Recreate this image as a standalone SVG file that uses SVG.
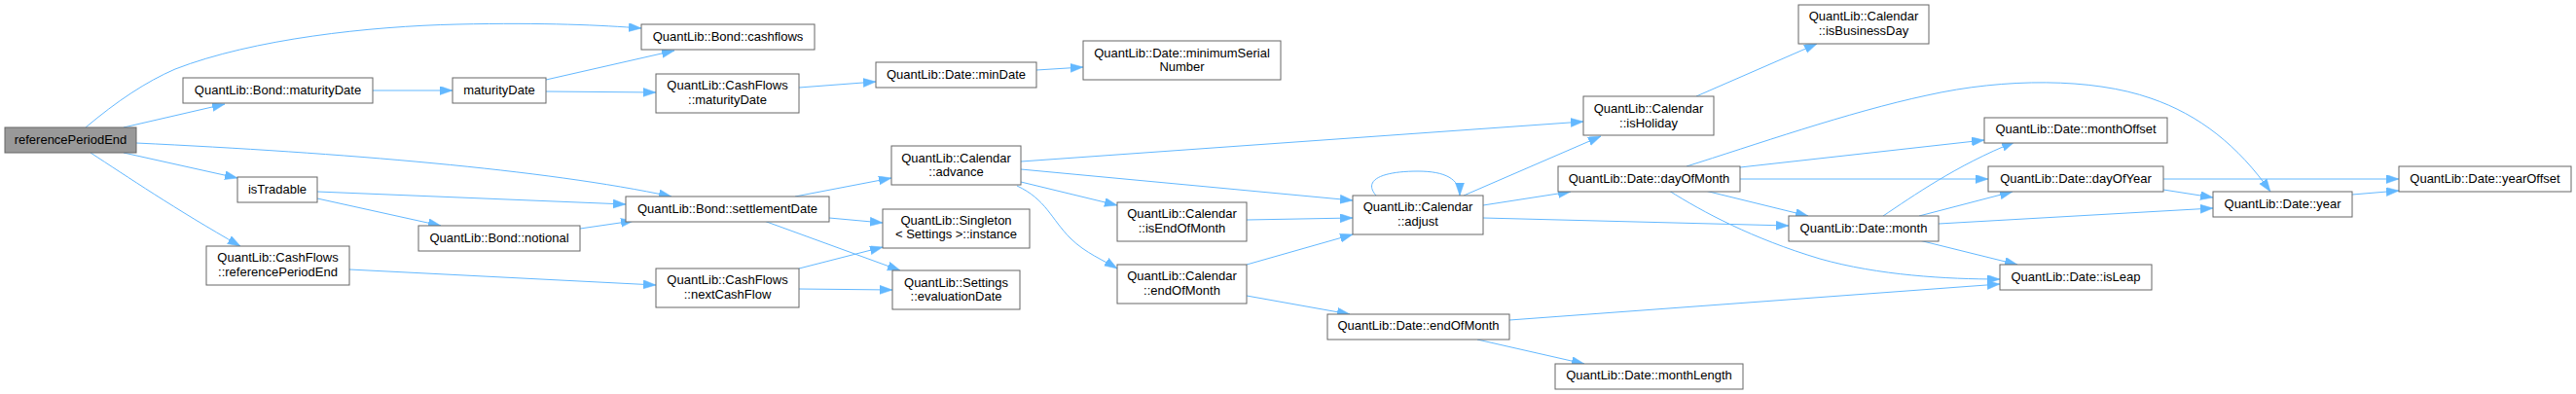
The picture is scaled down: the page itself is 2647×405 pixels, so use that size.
<svg xmlns="http://www.w3.org/2000/svg" width="2647" height="405" viewBox="0 0 2647 405">
<style>
.n rect{fill:#fff;stroke:#666;stroke-width:1}
.root rect{fill:#999;stroke:#666}
.n text{font-family:"Liberation Sans",Arial,sans-serif;font-size:13px;fill:#000;text-anchor:middle}
.e path{fill:none;stroke:#63b8ff;stroke-width:1;marker-end:url(#ah)}
</style>
<defs>
<marker id="ah" markerUnits="userSpaceOnUse" markerWidth="14" markerHeight="10" refX="13" refY="4.5" orient="auto">
<path d="M0,0 L13,4.5 L0,9 z" fill="#63b8ff" stroke="#63b8ff" stroke-width="0.5"/>
</marker>
</defs>
<rect width="2647" height="405" fill="#fff"/>
<g class="e" id="edges">
<path d="M88,131 C120,104 150,84 180,71 C260,40 380,27 470,25 C560,23 620,26 659,29"/>
<path d="M127,131 L231,107"/>
<path d="M140,147 C350,157 560,174 690,202"/>
<path d="M127,157 L244,183"/>
<path d="M93,157 C130,181 180,215 247,253"/>
<path d="M383,93 L465,93"/>
<path d="M561,82 L693,52"/>
<path d="M561,94 L674,95"/>
<path d="M821,90 L900,84"/>
<path d="M1065,72 L1113,69"/>
<path d="M326,197 L643,210"/>
<path d="M326,204 L453,232"/>
<path d="M596,235 L651,227"/>
<path d="M359,277 L674,293"/>
<path d="M817,202 L916,183"/>
<path d="M852,224 L907,229"/>
<path d="M785,227 L925,278"/>
<path d="M821,276 L907,254"/>
<path d="M821,297 L917,298"/>
<path d="M1049,166 L1627,125"/>
<path d="M1049,174 L1390,206"/>
<path d="M1049,187 L1148,211"/>
<path d="M1045,191 C1075,205 1080,225 1100,245 C1115,260 1135,268 1148,276"/>
<path d="M1281,226 L1390,224"/>
<path d="M1281,272 L1390,241"/>
<path d="M1281,304 L1387,323"/>
<path d="M1414,201 C1400,185 1420,176 1457,176 C1485,176 1500,184 1500,201"/>
<path d="M1504,201 L1645,140"/>
<path d="M1524,211 L1614,197"/>
<path d="M1524,224 L1838,232"/>
<path d="M1743,99 L1867,45"/>
<path d="M1733,171 C1800,150 1900,115 1980,98 C2060,80 2150,80 2210,101 C2260,118 2300,150 2333,197"/>
<path d="M1788,172 L2039,144"/>
<path d="M1788,184 L2043,184"/>
<path d="M1752,196 L1858,222"/>
<path d="M1715,196 C1750,218 1800,245 1870,266 C1930,283 2000,287 2055,287"/>
<path d="M1935,222 C1965,202 2010,170 2070,146"/>
<path d="M1972,222 L2068,197"/>
<path d="M1992,230 L2274,214"/>
<path d="M1972,247 L2073,272"/>
<path d="M1551,329 L2055,292"/>
<path d="M1518,349 L1628,374"/>
<path d="M2223,184 L2465,184"/>
<path d="M2223,195 L2274,203"/>
<path d="M2417,200 L2465,196"/>
</g>
<g class="n root" id="n0"><rect x="5" y="131" width="135" height="26"/><text x="72.5" y="148">referencePeriodEnd</text></g>
<g class="n" id="n1"><rect x="659" y="25" width="178" height="26"/><text x="748" y="42">QuantLib::Bond::cashflows</text></g>
<g class="n" id="n2"><rect x="188" y="80" width="195" height="26"/><text x="285.5" y="97">QuantLib::Bond::maturityDate</text></g>
<g class="n" id="n3"><rect x="465" y="80" width="96" height="26"/><text x="513" y="97">maturityDate</text></g>
<g class="n" id="n4"><rect x="674" y="76" width="147" height="40"/><text x="747.5" y="92">QuantLib::CashFlows</text><text x="747.5" y="107">::maturityDate</text></g>
<g class="n" id="n5"><rect x="900" y="64" width="165" height="26"/><text x="982.5" y="81">QuantLib::Date::minDate</text></g>
<g class="n" id="n6"><rect x="1113" y="42" width="203" height="40"/><text x="1214.5" y="59">QuantLib::Date::minimumSerial</text><text x="1214.5" y="73">Number</text></g>
<g class="n" id="n7"><rect x="244" y="182" width="82" height="26"/><text x="285" y="199">isTradable</text></g>
<g class="n" id="n8"><rect x="643" y="202" width="209" height="26"/><text x="747.5" y="219">QuantLib::Bond::settlementDate</text></g>
<g class="n" id="n9"><rect x="430" y="232" width="166" height="26"/><text x="513" y="249">QuantLib::Bond::notional</text></g>
<g class="n" id="n10"><rect x="212" y="253" width="147" height="40"/><text x="285.5" y="269">QuantLib::CashFlows</text><text x="285.5" y="284">::referencePeriodEnd</text></g>
<g class="n" id="n11"><rect x="674" y="276" width="147" height="40"/><text x="747.5" y="292">QuantLib::CashFlows</text><text x="747.5" y="307">::nextCashFlow</text></g>
<g class="n" id="n12"><rect x="916" y="150" width="133" height="40"/><text x="982.5" y="167">QuantLib::Calendar</text><text x="982.5" y="181">::advance</text></g>
<g class="n" id="n13"><rect x="907" y="215" width="151" height="40"/><text x="982.5" y="231">QuantLib::Singleton</text><text x="982.5" y="245">&lt; Settings &gt;::instance</text></g>
<g class="n" id="n14"><rect x="917" y="278" width="131" height="40"/><text x="982.5" y="295">QuantLib::Settings</text><text x="982.5" y="309">::evaluationDate</text></g>
<g class="n" id="n15"><rect x="1148" y="208" width="133" height="40"/><text x="1214.5" y="224">QuantLib::Calendar</text><text x="1214.5" y="239">::isEndOfMonth</text></g>
<g class="n" id="n16"><rect x="1148" y="272" width="133" height="40"/><text x="1214.5" y="288">QuantLib::Calendar</text><text x="1214.5" y="303">::endOfMonth</text></g>
<g class="n" id="n17"><rect x="1627" y="99" width="134" height="40"/><text x="1694" y="115.5">QuantLib::Calendar</text><text x="1694" y="131">::isHoliday</text></g>
<g class="n" id="n18"><rect x="1390" y="201" width="134" height="40"/><text x="1457" y="217">QuantLib::Calendar</text><text x="1457" y="232">::adjust</text></g>
<g class="n" id="n19"><rect x="1601" y="171" width="187" height="26"/><text x="1694.5" y="188">QuantLib::Date::dayOfMonth</text></g>
<g class="n" id="n20"><rect x="1364" y="323" width="187" height="26"/><text x="1457.5" y="339">QuantLib::Date::endOfMonth</text></g>
<g class="n" id="n21"><rect x="1598" y="374" width="193" height="26"/><text x="1694.5" y="390">QuantLib::Date::monthLength</text></g>
<g class="n" id="n22"><rect x="1848" y="5" width="134" height="40"/><text x="1915" y="20.5">QuantLib::Calendar</text><text x="1915" y="36">::isBusinessDay</text></g>
<g class="n" id="n23"><rect x="2039" y="121" width="188" height="26"/><text x="2133" y="137">QuantLib::Date::monthOffset</text></g>
<g class="n" id="n24"><rect x="2043" y="171" width="180" height="26"/><text x="2133" y="188">QuantLib::Date::dayOfYear</text></g>
<g class="n" id="n25"><rect x="1838" y="222" width="154" height="26"/><text x="1915" y="239">QuantLib::Date::month</text></g>
<g class="n" id="n26"><rect x="2055" y="272" width="156" height="26"/><text x="2133" y="289">QuantLib::Date::isLeap</text></g>
<g class="n" id="n27"><rect x="2274" y="197" width="143" height="26"/><text x="2345.5" y="214">QuantLib::Date::year</text></g>
<g class="n" id="n28"><rect x="2465" y="171" width="177" height="26"/><text x="2553.5" y="188">QuantLib::Date::yearOffset</text></g>
</svg>
